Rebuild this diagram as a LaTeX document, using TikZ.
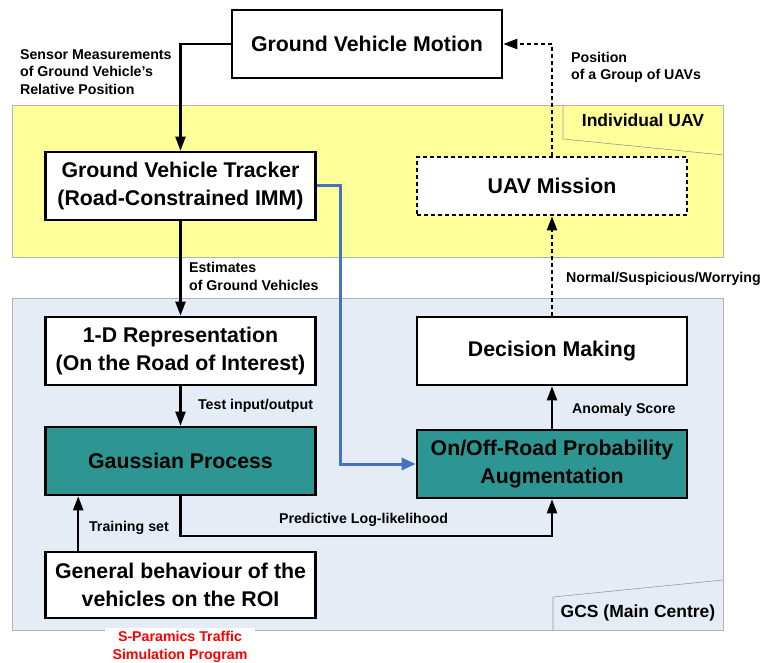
\documentclass[tikz,border=0pt]{standalone}
\usepackage{fontspec}
\setmainfont{Liberation Sans}
\usetikzlibrary{positioning, arrows.meta, calc}
\definecolor{tealbox}{RGB}{46,150,146}
\definecolor{uavfill}{RGB}{255,255,153}
\definecolor{gcsfill}{RGB}{230,236,246}
\definecolor{linkblue}{RGB}{68,114,196}

\begin{document}
\begin{tikzpicture}[x=1pt, y=-1pt, >={Triangle[length=14pt,width=10pt]}, line width=2.2pt]
\tikzset{box/.style={draw, line width=2.6pt, fill=white, minimum width=270pt, minimum height=68pt, align=center, font=\fontsize{21.3}{28}\selectfont\bfseries}, gpbox/.style={box, fill=tealbox}, lbl/.style={anchor=west, align=left, inner sep=0pt, font=\fontsize{14.2}{17.5}\selectfont\bfseries}, tab/.style={font=\fontsize{17.5}{21}\selectfont\bfseries}, dashline/.style={dash pattern=on 4pt off 3pt}}
\useasboundingbox (0,0) rectangle (761,663);
% regions
\draw[line width=0.8pt, draw=black!30, fill=uavfill] (12,105) rectangle (723,257);
\draw[line width=0.6pt, draw=black!40] (563,105) -- (563,139) -- (723,155);
\node[tab] (uavtab) at (643,120) {Individual UAV};
\draw[line width=0.8pt, draw=black!30, fill=gcsfill] (12,298) rectangle (723,630);
\draw[line width=0.6pt, draw=black!40] (553,630) -- (553,597) -- (723,580);
\node[tab] (gcstab) at (638,613) {GCS (Main Centre)};
% blocks
\node[box] (motion) at (367,44) {Ground Vehicle Motion};
\node[box] (tracker) at (180.5,186) {Ground Vehicle Tracker\\(Road-Constrained IMM)};
\node[box, dashline, minimum height=58pt] (mission) at (552,186) {UAV Mission};
\node[box] (oned) at (180.5,351) {1-D Representation\\(On the Road of Interest)};
\node[box] (decision) at (552,351) {Decision Making};
\node[gpbox] (gp) at (180.5,461) {Gaussian Process};
\node[gpbox] (onoff) at (552,464) {On/Off-Road Probability\\Augmentation};
\node[box, minimum height=66pt] (general) at (180.5,585) {General behaviour of the\\vehicles on the ROI};
\node[fill=white, text=red, align=center, minimum width=150pt, font=\fontsize{14.2}{17.5}\selectfont\bfseries] (sparamics) at (180,647) {S-Paramics Traffic\\Simulation Program};
% connectors
\draw[->] (motion.west) -| (tracker.north);
\draw[->, dashline] (mission.north) |- (motion.east);
\draw[->] (tracker) -- (oned);
\draw[->] (oned) -- (gp);
\draw[->] ([xshift=34pt]general.north west) -- ([xshift=34pt]gp.south west);
\coordinate (plbend) at (180.5,536);
\draw[->] (gp.south) -- (plbend) -| (onoff.south);
\draw[->] (onoff) -- (decision);
\draw[->, dashline] (decision) -- (mission);
\coordinate (bluebend) at (340,464);
\draw[->, linkblue, line width=3pt, >={Triangle[length=14pt,width=12pt]}] (tracker.east) -| (bluebend) -- (onoff.west);
% labels
\node[lbl] (sensorlbl) at (19,72) {Sensor Measurements\\of Ground Vehicle's\\Relative Position};
\node[lbl] (poslbl) at (570,67.5) {Position\\of a Group of UAVs};
\node[lbl] (estlbl) at (188,276.5) {Estimates\\of Ground Vehicles};
\node[lbl] (normlbl) at (565,279) {Normal/Suspicious/Worrying};
\node[lbl] (testlbl) at (197,406) {Test input/output};
\node[lbl] (anomlbl) at (571,410) {Anomaly Score};
\node[lbl] (trainlbl) at (88,528) {Training set};
\node[lbl] (predlbl) at (278,520) {Predictive Log-likelihood};
\end{tikzpicture}
\end{document}
